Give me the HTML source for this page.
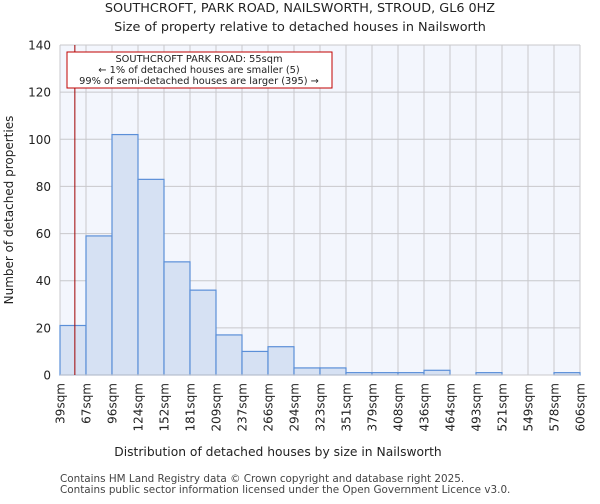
<!DOCTYPE html>
<html><head><meta charset="utf-8"><style>
body{margin:0;background:#fff;font-family:"DejaVu Sans","Liberation Sans",sans-serif}
</style></head><body>
<svg width="600" height="500" xmlns="http://www.w3.org/2000/svg" font-family="DejaVu Sans, Liberation Sans, sans-serif">
<text x="300" y="12" text-anchor="middle" font-size="12.8" fill="#222">SOUTHCROFT, PARK ROAD, NAILSWORTH, STROUD, GL6 0HZ</text>
<text x="300" y="31" text-anchor="middle" font-size="12.8" fill="#222">Size of property relative to detached houses in Nailsworth</text>
<rect x="60" y="45" width="520" height="330" fill="#f3f6fd"/>
<g id="grid"></g>
<g id="bars"></g>
<g id="axes"></g>
<line id="marker" stroke="#a00000" stroke-width="1"/>
<g>
<rect x="67" y="52" width="265" height="36" fill="#fff" stroke="#c00000" stroke-width="1"/>
<text x="199" y="62" text-anchor="middle" font-size="9.8" fill="#222">SOUTHCROFT PARK ROAD: 55sqm</text>
<text x="199" y="73" text-anchor="middle" font-size="9.8" fill="#222">← 1% of detached houses are smaller (5)</text>
<text x="199" y="84" text-anchor="middle" font-size="9.8" fill="#222">99% of semi-detached houses are larger (395) →</text>
</g>
<text x="278" y="456" text-anchor="middle" font-size="12.3" fill="#222">Distribution of detached houses by size in Nailsworth</text>
<text transform="translate(13,210) rotate(-90)" text-anchor="middle" font-size="12" fill="#222">Number of detached properties</text>
<text x="60" y="482" font-size="10.4" fill="#444">Contains HM Land Registry data © Crown copyright and database right 2025.</text>
<text x="60" y="493" font-size="10.4" fill="#444">Contains public sector information licensed under the Open Government Licence v3.0.</text>
</svg>
<script>
const binLabels=["39sqm","67sqm","96sqm","124sqm","152sqm","181sqm","209sqm","237sqm","266sqm","294sqm","323sqm","351sqm","379sqm","408sqm","436sqm","464sqm","493sqm","521sqm","549sqm","578sqm","606sqm"];
const binEdges=[39,67,96,124,152,181,209,237,266,294,323,351,379,408,436,464,493,521,549,578,606];
const counts=[21,59,102,83,48,36,17,10,12,3,3,1,1,1,2,0,1,0,0,1];
const yTicks=[0,20,40,60,80,100,120,140];
const propertySize=55;
const NS="http://www.w3.org/2000/svg";
const X0=60,X1=580,Y0=375,Y1=45,yMax=140;
const n=counts.length;
const xi=i=>X0+(X1-X0)*i/n;
const y=v=>Y0-(Y0-Y1)*v/yMax;
function xv(v){for(let i=0;i<binEdges.length-1;i++){if(v<=binEdges[i+1]){return xi(i)+(v-binEdges[i])/(binEdges[i+1]-binEdges[i])*(xi(i+1)-xi(i));}}return X1;}
function mk(t,a,p){const e=document.createElementNS(NS,t);for(const k in a)e.setAttribute(k,a[k]);p.appendChild(e);return e;}
const grid=document.getElementById('grid'),bars=document.getElementById('bars'),axes=document.getElementById('axes');
yTicks.forEach(t=>{const l=mk('line',{x1:X0,x2:X1,y1:y(t),y2:y(t),stroke:'#c8c8cc','stroke-width':1},grid);


const tx=mk('text',{x:X0-9,y:y(t)+4.5,'text-anchor':'end','font-size':12,fill:'#222'},axes);tx.textContent=t;

});
binLabels.forEach((lb,i)=>{const l=mk('line',{x1:xi(i),x2:xi(i),y1:Y1,y2:Y0,stroke:'#c8c8cc','stroke-width':1},grid);


const tx=mk('text',{transform:`translate(${xi(i)+4.5},${Y0+8}) rotate(-90)`,'text-anchor':'end','font-size':12,fill:'#222'},axes);tx.textContent=lb;

});
counts.forEach((c,i)=>{if(c<=0)return;const r=mk('rect',{x:xi(i),y:y(c),width:xi(i+1)-xi(i),height:Y0-y(c),fill:'#d6e1f3',stroke:'#5b8fd8','stroke-width':1.2},bars);

});
const bl=mk('line',{x1:X0,x2:X1,y1:Y0,y2:Y0,stroke:'#c8c8cc','stroke-width':1},axes);


const m=document.getElementById('marker');const mx=xv(propertySize);
m.setAttribute('x1',mx);m.setAttribute('x2',mx);m.setAttribute('y1',Y1);m.setAttribute('y2',Y0);
</script>
</body></html>
